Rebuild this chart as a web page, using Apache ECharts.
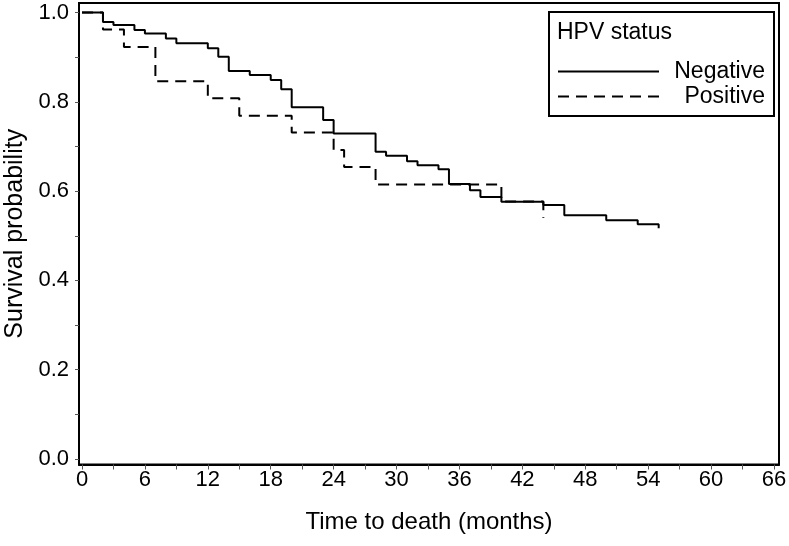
<!DOCTYPE html>
<html>
<head>
<meta charset="utf-8">
<script src="https://cdn.jsdelivr.net/npm/echarts@6/dist/echarts.min.js"></script>
<style>
html,body{margin:0;padding:0;background:#fff;}
#chart{width:789px;height:546px;}
</style>
</head>
<body>
<div id="chart"></div>
<script>
// Kaplan-Meier step data: [month, survival probability]
const negativeMonths = [0, 2, 3, 5, 6, 8, 9, 12, 13, 14, 16, 18, 19, 20, 23, 24, 28, 29, 31, 32, 34, 35, 37, 38, 40, 44, 46, 50, 53, 55];
const negativeSurv   = [1.000, 0.979, 0.972, 0.961, 0.953, 0.942, 0.931, 0.920, 0.901, 0.869, 0.860, 0.849, 0.828, 0.788, 0.759, 0.729, 0.688, 0.679, 0.667, 0.658, 0.649, 0.616, 0.602, 0.587, 0.576, 0.569, 0.546, 0.535, 0.526, 0.517];
const positiveMonths = [0, 2, 4, 7, 12, 15, 20, 24, 25, 28, 40, 44];
const positiveSurv   = [1.000, 0.962, 0.923, 0.846, 0.808, 0.769, 0.731, 0.692, 0.654, 0.615, 0.577, 0.540];

const xTickLabels = [0, 6, 12, 18, 24, 30, 36, 42, 48, 54, 60, 66];
const xTickMarks  = [0, 3, 6, 9, 12, 15, 18, 21, 24, 27, 30, 33, 36, 39, 42, 45, 48, 51, 54, 57, 60, 63, 66];
const yTickLabels = [0, 0.2, 0.4, 0.6, 0.8, 1.0];
const yTickMarks  = [0, 0.1, 0.2, 0.3, 0.4, 0.5, 0.6, 0.7, 0.8, 0.9, 1.0];

const seriesNames = ['Negative', 'Positive'];
const legendTitle = 'HPV status';
const xTitle = 'Time to death (months)';
const yTitle = 'Survival probability';

const FONT = "'Liberation Sans', Arial, sans-serif";
const zip = (a, b) => a.map((v, i) => [v, b[i]]);

const chart = echarts.init(document.getElementById('chart'), null, {renderer: 'canvas'});
chart.setOption({
  animation: false,
  backgroundColor: '#fff',
  grid: {
    left: 79, right: 10, top: 3, bottom: 81.5,
    containLabel: false, outerBoundsMode: 'none',
    show: true, borderColor: '#000', borderWidth: 2, backgroundColor: 'transparent'
  },
  xAxis: {
    type: 'value',
    min: -0.286, max: 66.477,
    name: xTitle, nameLocation: 'middle', nameGap: 46,
    nameTextStyle: {fontFamily: FONT, fontSize: 24, color: '#000'},
    axisLine: {show: true, onZero: false, lineStyle: {color: '#000', width: 2}},
    axisTick: {show: true, inside: false, length: 5, customValues: xTickMarks, lineStyle: {color: '#555', width: 1}},
    axisLabel: {show: true, customValues: xTickLabels, margin: 4, fontFamily: FONT, fontSize: 22, color: '#000'},
    splitLine: {show: false}
  },
  yAxis: {
    type: 'value',
    min: -0.0123, max: 1.0213,
    name: yTitle, nameLocation: 'middle', nameGap: 50,
    nameTextStyle: {fontFamily: FONT, fontSize: 25, color: '#000'},
    axisLine: {show: true, onZero: false, lineStyle: {color: '#000', width: 2}},
    axisTick: {show: true, inside: false, length: 4, customValues: yTickMarks, lineStyle: {color: '#555', width: 1}},
    axisLabel: {show: true, customValues: yTickLabels, margin: 10, fontFamily: FONT, fontSize: 22, color: '#000',
      formatter: v => v.toFixed(1)},
    splitLine: {show: false}
  },
  legend: {
    orient: 'vertical',
    left: 557, top: 60,
    padding: 0,
    itemWidth: 101, itemHeight: 14, itemGap: 2,
    selectedMode: false,
    data: seriesNames,
    itemStyle: {opacity: 0},
    formatter: '{r|{name}}',
    textStyle: {fontFamily: FONT, fontSize: 23, color: '#000',
      rich: {r: {width: 101, align: 'right', fontFamily: FONT, fontSize: 23, color: '#000'}}}
  },
  graphic: [
    {type: 'rect', z: 100, shape: {x: 549, y: 12, width: 225, height: 104},
      style: {stroke: '#000', lineWidth: 2, fill: 'transparent'}},
    {type: 'text', z: 100, x: 557, y: 33,
      style: {text: legendTitle, font: "23px 'Liberation Sans', Arial, sans-serif", fill: '#000', verticalAlign: 'middle'}}
  ],
  series: [
    {
      name: seriesNames[0], type: 'line', step: 'end', symbol: 'none',
      lineStyle: {color: '#000', width: 2, type: 'solid'},
      itemStyle: {color: '#000'},
      data: zip(negativeMonths, negativeSurv)
    },
    {
      name: seriesNames[1], type: 'line', step: 'end', symbol: 'none',
      lineStyle: {color: '#000', width: 2, type: [11, 7]},
      itemStyle: {color: '#000'},
      data: zip(positiveMonths, positiveSurv)
    }
  ]
});
</script>
</body>
</html>
